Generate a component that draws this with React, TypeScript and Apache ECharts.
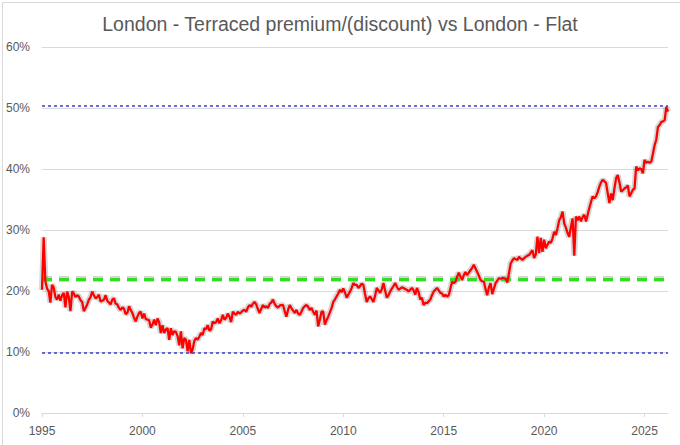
import React, { useEffect, useRef } from "react";
import * as echarts from "echarts";

const startYear = 1995;
const titleText = "London - Terraced premium/(discount) vs London - Flat";

// Monthly premium (%), Jan 1995 .. Mar 2026
const y1995 = [20.2, 28.8, 21.6, 20.4, 20.0, 18.1, 21.0, 20.6, 19.0, 18.6, 19.4, 18.4];
const y1996 = [19.3, 19.7, 17.3, 19.9, 19.0, 16.7, 19.9, 19.6, 19.0, 19.3, 19.1, 18.5];
const y1997 = [18.2, 16.7, 17.2, 17.8, 18.6, 19.0, 19.9, 19.3, 18.8, 19.0, 19.4, 18.3];
const y1998 = [18.4, 18.6, 19.3, 18.4, 18.1, 17.8, 18.6, 18.8, 17.9, 17.8, 17.2, 16.9];
const y1999 = [17.3, 17.1, 16.2, 16.4, 17.5, 16.9, 16.4, 15.6, 15.0, 15.8, 16.4, 16.6];
const y2000 = [15.5, 16.3, 15.4, 15.3, 15.2, 14.0, 14.5, 15.3, 14.4, 15.5, 14.9, 13.1];
const y2001 = [14.4, 13.1, 13.7, 13.9, 12.0, 13.9, 12.8, 13.4, 13.3, 12.6, 11.1, 13.4];
const y2002 = [10.6, 12.3, 12.0, 10.1, 12.0, 9.8, 10.4, 11.8, 12.3, 12.0, 12.5, 13.1];
const y2003 = [12.8, 13.9, 13.7, 14.4, 13.5, 13.7, 15.0, 14.7, 14.9, 15.5, 14.7, 15.2];
const y2004 = [16.1, 15.3, 15.6, 16.3, 15.8, 14.9, 16.6, 16.3, 16.1, 16.6, 16.3, 16.5];
const y2005 = [16.8, 16.9, 16.6, 17.3, 17.7, 17.4, 17.9, 18.2, 17.8, 17.0, 16.4, 17.1];
const y2006 = [17.7, 17.3, 17.5, 17.2, 17.9, 18.1, 18.6, 17.9, 17.5, 17.3, 17.6, 17.7];
const y2007 = [17.7, 16.7, 15.8, 16.9, 17.7, 17.2, 16.8, 16.4, 16.9, 16.3, 16.1, 16.6];
const y2008 = [17.2, 17.5, 17.7, 17.4, 16.9, 17.2, 16.6, 16.1, 16.8, 14.2, 15.3, 16.6];
const y2009 = [16.6, 14.5, 15.2, 15.8, 16.5, 17.2, 18.2, 18.6, 19.1, 19.6, 20.2, 19.8];
const y2010 = [20.4, 19.8, 18.9, 19.4, 19.9, 20.5, 21.3, 21.0, 21.0, 20.5, 20.8, 21.2];
const y2011 = [21.0, 19.5, 18.2, 18.8, 19.1, 18.7, 18.2, 19.2, 20.5, 20.1, 19.7, 20.3];
const y2012 = [21.3, 20.1, 18.9, 19.3, 19.9, 20.4, 20.8, 21.3, 20.7, 20.2, 20.4, 20.6];
const y2013 = [20.5, 20.3, 20.2, 19.9, 20.2, 20.5, 20.1, 19.4, 20.5, 19.8, 18.6, 18.9];
const y2014 = [17.7, 18.1, 18.0, 18.3, 18.6, 19.3, 19.9, 20.2, 20.5, 20.1, 19.7, 19.6];
const y2015 = [19.1, 19.4, 19.1, 19.3, 20.4, 21.5, 21.3, 21.5, 22.3, 23.0, 22.4, 21.8];
const y2016 = [22.6, 23.1, 22.6, 23.0, 23.4, 23.8, 24.3, 23.7, 23.1, 22.5, 21.8, 21.6];
const y2017 = [21.5, 20.3, 19.3, 20.6, 21.3, 19.5, 20.4, 21.3, 21.7, 22.1, 22.0, 22.1];
const y2018 = [22.1, 22.0, 21.4, 22.9, 24.5, 25.0, 25.4, 25.2, 25.1, 25.6, 25.3, 25.1];
const y2019 = [25.4, 25.6, 25.8, 25.9, 26.3, 26.7, 25.4, 26.0, 28.9, 26.2, 28.7, 26.4];
const y2020 = [28.4, 27.0, 27.6, 28.1, 27.9, 28.6, 29.7, 29.2, 30.3, 31.6, 32.1, 33.0];
const y2021 = [31.1, 30.4, 29.5, 28.9, 30.5, 31.9, 25.8, 32.2, 31.6, 32.2, 31.4, 32.1];
const y2022 = [32.5, 31.4, 32.5, 33.6, 34.6, 35.5, 35.2, 35.5, 36.2, 37.1, 37.8, 38.2];
const y2023 = [38.0, 37.7, 36.0, 34.4, 36.0, 34.9, 36.8, 38.5, 39.0, 37.8, 36.3, 36.5];
const y2024 = [36.8, 37.0, 37.3, 35.5, 36.0, 36.6, 36.8, 40.4, 39.8, 40.1, 40.0, 39.3];
const y2025 = [41.5, 41.0, 41.2, 41.0, 41.2, 42.5, 43.9, 44.8, 46.9, 47.2, 47.7, 47.8];
const y2026 = [48.0, 50.2, 49.4];

const premium: number[] = [
  ...y1995, ...y1996, ...y1997, ...y1998, ...y1999, ...y2000, ...y2001, ...y2002,
  ...y2003, ...y2004, ...y2005, ...y2006, ...y2007, ...y2008, ...y2009, ...y2010,
  ...y2011, ...y2012, ...y2013, ...y2014, ...y2015, ...y2016, ...y2017, ...y2018,
  ...y2019, ...y2020, ...y2021, ...y2022, ...y2023, ...y2024, ...y2025, ...y2026,
];

// Reference lines
const averageLevel = 22.0;
const maxLevel = 50.3;
const minLevel = 9.8;

const yTicks = [0, 10, 20, 30, 40, 50, 60];

const months: string[] = premium.map((_, i) => {
  const y = startYear + Math.floor(i / 12);
  const m = (i % 12) + 1;
  return `${y}-${m < 10 ? "0" + m : m}`;
});

const isLabelMonth = (i: number) => i % 12 === 0 && (startYear + Math.floor(i / 12)) % 5 === 0;

export default function App() {
  const ref = useRef<HTMLDivElement>(null);
  useEffect(() => {
    if (!ref.current) return;
    const chart = echarts.init(ref.current, undefined, { renderer: "svg" });
    const font = "'Liberation Sans', Arial, sans-serif";
    chart.setOption({
      animation: false,
      backgroundColor: "#ffffff",
      textStyle: { fontFamily: font },
      title: {
        text: titleText,
        left: "center",
        top: 9,
        textStyle: { fontSize: 19.5, fontWeight: "normal", color: "#595959", fontFamily: font },
      },
      graphic: [
        {
          type: "rect",
          left: 0,
          top: 0,
          shape: { width: 679, height: 443 },
          style: { fill: "none", stroke: "#d9d9d9", lineWidth: 1 },
          silent: true,
        },
      ],
      grid: { left: 42, right: 12, top: 47, bottom: 32 },
      xAxis: {
        type: "category",
        data: months,
        boundaryGap: false,
        axisLine: { lineStyle: { color: "#d9d9d9", width: 1 } },
        axisTick: {
          show: true,
          length: 4,
          interval: (i: number) => isLabelMonth(i),
          lineStyle: { color: "#d9d9d9" },
        },
        axisLabel: {
          interval: (i: number) => isLabelMonth(i),
          formatter: (v: string) => v.slice(0, 4),
          color: "#595959",
          fontSize: 12,
          margin: 12,
        },
        splitLine: { show: false },
      },
      yAxis: {
        type: "value",
        min: yTicks[0],
        max: yTicks[yTicks.length - 1],
        interval: 10,
        axisLine: { show: false },
        axisTick: { show: false },
        axisLabel: { formatter: "{value}%", color: "#595959", fontSize: 12, margin: 12 },
        splitLine: { lineStyle: { color: "#d9d9d9", width: 1 } },
      },
      series: [
        {
          // soft grey shadow under the red line
          type: "line",
          data: premium,
          showSymbol: false,
          symbol: "none",
          silent: true,
          lineStyle: { color: "rgba(0,0,0,0.16)", width: 6 },
          z: 3,
          markLine: {
            silent: true,
            symbol: "none",
            label: { show: false },
            data: [
              {
                yAxis: averageLevel,
                lineStyle: { color: "rgba(0,0,0,0.16)", width: 6, type: [10, 7] },
              },
            ],
          },
        },
        {
          type: "line",
          data: premium,
          showSymbol: false,
          symbol: "none",
          lineStyle: { color: "#ff0000", width: 2.25 },
          z: 5,
          markLine: {
            silent: true,
            symbol: "none",
            label: { show: false },
            data: [
              { yAxis: averageLevel, lineStyle: { color: "#33dd22", width: 3, type: [10, 7] } },
              { yAxis: maxLevel, lineStyle: { color: "#3c3ccc", width: 1.5, type: [3, 3] } },
              { yAxis: minLevel, lineStyle: { color: "#3c3ccc", width: 1.5, type: [3, 3] } },
            ],
          },
        },
      ],
    });
    return () => chart.dispose();
  }, []);
  return (
    <div
      ref={ref}
      style={{ position: "fixed", left: 0, top: 0, width: 680, height: 445, background: "#fff" }}
    />
  );
}
